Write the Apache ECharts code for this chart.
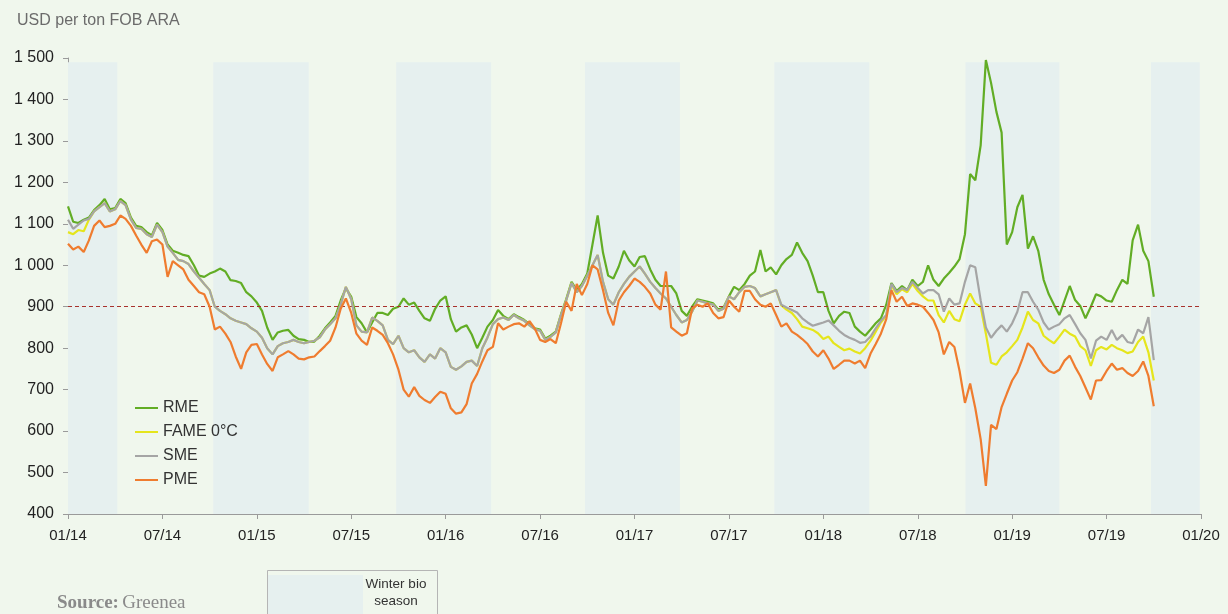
<!DOCTYPE html>
<html>
<head>
<meta charset="utf-8">
<script src="https://cdn.jsdelivr.net/npm/echarts@6/dist/echarts.min.js"></script>
<style>
html,body{margin:0;padding:0;background:#f0f7ed;}
#chart{width:1228px;height:614px;}
</style>
</head>
<body>
<div id="chart"></div>
<script>
// Observation dates: 1st, 11th and 21st of each month, Jan 2014 .. Oct 1 2019
var dates = [];
(function(){
  for (var y = 2014; y <= 2019; y++) {
    for (var m = 1; m <= 12; m++) {
      if (y === 2019 && m > 10) break;
      var days = (y === 2019 && m === 10) ? [1] : [1, 11, 21];
      days.forEach(function(d){
        dates.push(y + '-' + (m < 10 ? '0' + m : m) + '-' + (d < 10 ? '0' + d : d));
      });
    }
  }
})();

var seriesNames = ['RME', 'FAME 0°C', 'SME', 'PME'];

var rme = [
1142,1105,1102, 1110,1115,1133, 1145,1160,1135, 1138,1160,1150, 1115,1095,1092, 1080,1072,1102,
1085,1050,1035, 1030,1025,1022, 1000,975,972, 980,985,992, 985,964,962, 957,935,925,
910,890,850, 820,838,842, 844,830,822, 820,815,816, 830,848,862, 878,915,945,
924,875,860, 838,862,885, 885,880,895, 900,920,905, 910,890,872, 866,895,915,
925,870,840, 850,855,833, 800,825,852, 868,892,878, 870,882,875, 868,858,848,
845,823,830, 840,882,918, 960,940,955, 980,1050,1120, 1030,975,968, 997,1035,1012,
997,1020,1022, 990,965,950, 950,950,932, 890,878,900, 918,915,912, 908,893,898,
925,948,940, 955,975,985, 1037,985,995, 978,1000,1015, 1025,1055,1030, 1010,975,935,
935,890,860, 878,888,885, 852,840,830, 845,860,872, 905,957,938, 950,940,965,
950,960,1000, 965,950,968, 982,997,1015, 1075,1220,1205, 1290,1495,1440, 1370,1320,1050,
1080,1140,1170, 1040,1070,1035, 965,930,905, 880,915,950, 916,902,872, 900,930,925,
915,912,940, 965,955,1060, 1098,1035,1010, 924
];

var fame = [
1080,1075,1085, 1082,1110,1130, 1140,1150,1130, 1135,1155,1145, 1110,1090,1088, 1075,1068,1098,
1080,1045,1030, 1013,1010,1003, 985,970,955, 940,900,890, 882,872,866, 862,858,848,
840,825,800, 785,805,812, 815,820,815, 812,815,818, 826,845,858, 872,905,948,
918,855,840, 838,874,866, 855,820,810, 830,800,790, 795,778,767, 785,775,800,
790,755,748, 756,767,770, 757,800,826, 858,870,874, 868,880,872, 866,855,846,
842,820,827, 838,880,915, 957,935,950, 975,1000,1025, 960,918,905, 935,955,972,
985,997,980, 960,945,932, 920,900,880, 862,868,888, 915,912,908, 905,890,895,
925,918,935, 948,950,945, 925,930,935, 940,903,893, 885,870,852, 848,844,836,
822,828,812, 803,795,799, 792,787,800, 818,840,862, 878,952,930, 942,935,955,
938,925,915, 915,880,862, 890,870,865, 905,932,908, 900,835,765, 760,780,790,
805,820,850, 888,868,860, 830,820,812, 828,845,835, 828,805,795, 757,795,803,
797,808,800, 795,788,792, 815,828,790, 722
];

var sme = [
1110,1088,1098, 1108,1112,1130, 1140,1150,1130, 1135,1155,1145, 1110,1090,1088, 1075,1068,1098,
1080,1045,1030, 1013,1010,1003, 985,970,955, 940,900,890, 882,872,866, 862,858,848,
840,825,800, 785,805,812, 815,820,815, 812,815,818, 826,845,858, 872,905,948,
918,855,840, 838,874,866, 855,820,810, 830,800,790, 795,778,767, 785,775,800,
790,755,748, 756,767,770, 757,800,826, 858,870,874, 868,880,872, 866,855,846,
842,820,827, 838,880,915, 957,935,950, 975,1000,1025, 960,918,905, 935,955,972,
985,997,980, 960,945,932, 920,900,880, 862,868,888, 915,912,908, 905,890,895,
925,918,935, 948,950,945, 925,930,935, 940,905,898, 892,886,872, 862,854,858,
862,867,855, 842,832,825, 820,813,815, 828,848,866, 880,955,935, 945,940,960,
945,932,940, 940,930,888, 920,905,908, 960,1000,995, 915,850,825, 842,855,840,
860,888,935, 935,912,893, 862,845,852, 858,872,880, 858,836,820, 775,818,828,
820,844,820, 832,815,812, 845,836,875, 771
];

var pme = [
1052,1038,1045, 1032,1060,1095, 1108,1092,1095, 1100,1120,1112, 1095,1072,1050, 1030,1058,1062,
1050,972,1010, 1000,990,965, 950,935,930, 900,845,852, 835,815,780, 750,790,808,
810,785,762, 745,778,785, 793,785,775, 773,778,780, 793,805,818, 850,895,920,
885,835,818, 808,850,842, 832,812,785, 748,700,683, 706,685,675, 668,682,695,
690,655,642, 645,665,715, 738,768,795, 803,860,845, 852,858,860, 852,865,848,
820,815,822, 812,860,912, 890,955,928, 955,1000,990, 940,885,855, 915,935,950,
968,960,948, 932,905,893, 985,850,840, 830,836,895, 905,900,908, 885,872,875,
915,900,888, 938,938,918, 905,900,908, 880,852,860, 840,832,822, 810,792,780,
795,775,750, 760,770,770, 763,770,752, 787,810,835, 870,940,912, 924,902,908,
905,900,885, 868,838,785, 815,803,745, 668,715,655, 580,468,615, 605,658,690,
722,742,775, 812,800,778, 758,745,740, 748,770,782, 755,733,705, 676,722,723,
745,763,748, 752,740,733, 745,768,733, 660
];

var winterSeasons = [
  ['2014-01-01', '2014-04-05'],
  ['2014-10-08', '2015-04-10'],
  ['2015-09-27', '2016-03-28'],
  ['2016-09-27', '2017-03-28'],
  ['2017-09-28', '2018-03-29'],
  ['2018-10-02', '2019-04-01'],
  ['2019-09-26', '2019-12-29']
];

var referenceLevel = 900;
var seriesColors = ['#62ad25', '#e5e51c', '#a5a5a5', '#ef7c2f'];

function toMonths(s) {
  var p = s.split('-');
  return (parseInt(p[0], 10) - 2014) * 12 + (parseInt(p[1], 10) - 1) + (parseInt(p[2], 10) - 1) / 30.4;
}
function pairs(vals) {
  return vals.map(function(v, i){ return [toMonths(dates[i]), v]; });
}

var chart = echarts.init(document.getElementById('chart'), null, {renderer: 'canvas'});
var font = 'Liberation Sans, Arial, sans-serif';
var serif = 'Liberation Serif, Times New Roman, serif';
var bandColor = '#e6f0ef';

var option = {
  backgroundColor: '#f0f7ed',
  animation: false,
  textStyle: {fontFamily: font},
  title: {
    text: 'USD per ton FOB ARA',
    left: 12, top: 8,
    textStyle: {fontSize: 16, fontWeight: 'normal', color: '#6b6b6b', fontFamily: font}
  },
  grid: {left: 68, right: 27, top: 58, bottom: 100, containLabel: false},
  legend: {
    data: seriesNames,
    orient: 'vertical',
    left: 130, top: 395,
    icon: 'rect',
    itemWidth: 23, itemHeight: 2,
    itemGap: 8,
    textStyle: {fontSize: 16, color: '#333', fontFamily: font}
  },
  xAxis: {
    type: 'value',
    min: 0, max: 72, interval: 6,
    axisLine: {show: true, lineStyle: {color: '#9a9a9a', width: 1}},
    axisTick: {show: true, length: 5, lineStyle: {color: '#9a9a9a'}},
    splitLine: {show: false},
    axisLabel: {
      fontSize: 15, color: '#222', margin: 14, fontFamily: font,
      formatter: function(v){
        var yy = 14 + Math.floor(v / 12);
        return (v % 12 === 0 ? '01' : '07') + '/' + yy;
      }
    }
  },
  yAxis: {
    type: 'value',
    min: 400, max: 1500, interval: 100,
    axisLine: {show: true, lineStyle: {color: '#9a9a9a', width: 1}},
    axisTick: {show: true, length: 5, lineStyle: {color: '#9a9a9a'}},
    splitLine: {show: false},
    axisLabel: {
      fontSize: 16, color: '#222', margin: 14, fontFamily: font,
      formatter: function(v){
        if (v >= 1000) { var r = String(v % 1000); while (r.length < 3) r = '0' + r; return Math.floor(v / 1000) + ' ' + r; }
        return String(v);
      }
    }
  },
  series: [
    {
      name: 'season', type: 'line', data: [], z: 1, silent: true,
      markArea: {
        silent: true,
        itemStyle: {color: bandColor},
        data: winterSeasons.map(function(s){ return [{xAxis: toMonths(s[0]), yAxis: 1490}, {xAxis: toMonths(s[1]), yAxis: 400}]; })
      }
    }
  ].concat([rme, fame, sme, pme].map(function(vals, k){
    var s = {
      name: seriesNames[k], type: 'line', data: pairs(vals),
      showSymbol: false, symbol: 'none', z: 3 + k,
      lineStyle: {color: seriesColors[k], width: 2.2},
      itemStyle: {color: seriesColors[k]}
    };
    if (k === 3) {
      s.markLine = {
        silent: true, symbol: 'none', label: {show: false},
        lineStyle: {color: '#a8322d', type: [4, 3], width: 1.2},
        data: [{yAxis: referenceLevel}]
      };
    }
    return s;
  })),
  graphic: [
    {type: 'rect', left: 265, top: 568, shape: {width: 170, height: 60}, style: {fill: 'none', stroke: '#b5b5b5', lineWidth: 1}, silent: true},
    {type: 'rect', left: 268, top: 575, shape: {width: 95, height: 50}, style: {fill: bandColor}, silent: true},
    {type: 'text', x: 396, y: 576, style: {text: 'Winter bio\nseason', font: '13.5px ' + font, fill: '#333', align: 'center', lineHeight: 17}},
    {type: 'text', left: 57, top: 594, style: {
      text: '{b|Source:} {n|Greenea}',
      rich: {
        b: {font: 'bold 19px ' + serif, fill: '#8a8a8a'},
        n: {font: '19px ' + serif, fill: '#8a8a8a'}
      }
    }}
  ]
};
chart.setOption(option);
</script>
</body>
</html>
